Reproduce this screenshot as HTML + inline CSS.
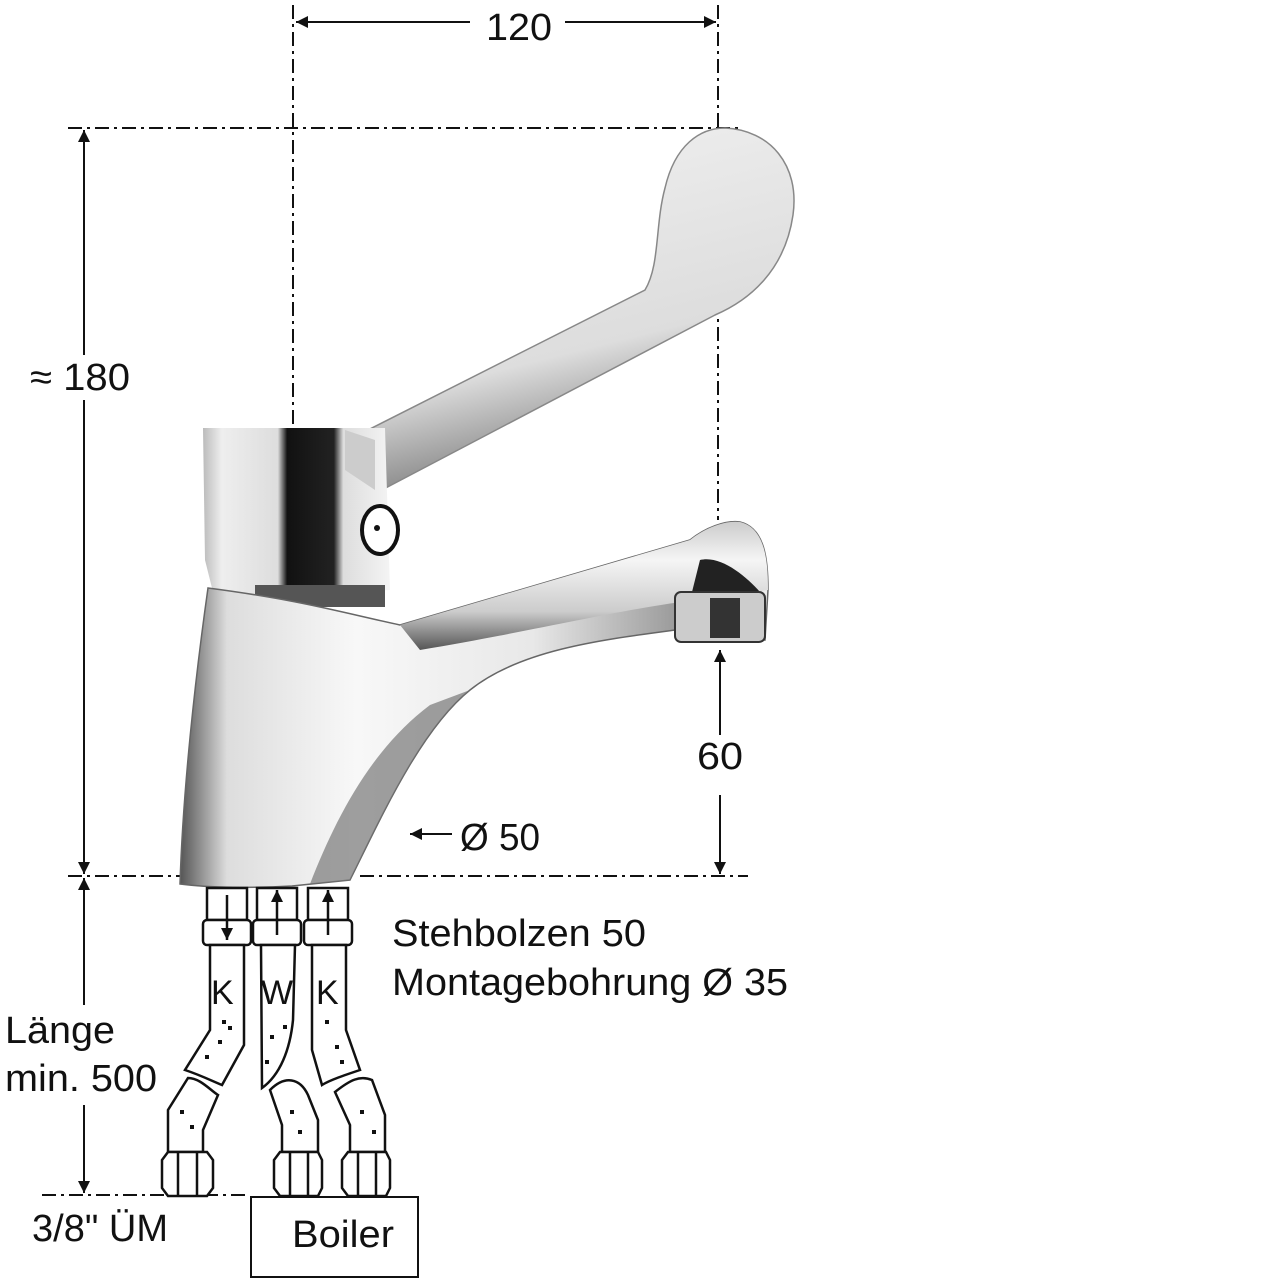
<!DOCTYPE html>
<html><head><meta charset="utf-8"><style>html,body{margin:0;padding:0;background:#fff}svg{display:block}</style></head>
<body>
<svg width="1280" height="1280" viewBox="0 0 1280 1280" xmlns="http://www.w3.org/2000/svg" font-family="Liberation Sans, Arial, sans-serif">
<defs>
<linearGradient id="body" x1="0" x2="1" y1="0" y2="0">
<stop offset="0" stop-color="#555"/><stop offset="0.08" stop-color="#ddd"/><stop offset="0.3" stop-color="#f8f8f8"/><stop offset="0.6" stop-color="#e8e8e8"/><stop offset="0.85" stop-color="#999"/><stop offset="1" stop-color="#eee"/></linearGradient>
<linearGradient id="cap" x1="0" x2="1"><stop offset="0" stop-color="#bbb"/><stop offset="0.1" stop-color="#eee"/><stop offset="0.4" stop-color="#ddd"/><stop offset="0.45" stop-color="#111"/><stop offset="0.7" stop-color="#222"/><stop offset="0.75" stop-color="#ddd"/><stop offset="1" stop-color="#f4f4f4"/></linearGradient>
<linearGradient id="lever" x1="0" y1="0" x2="0.3" y2="1"><stop offset="0" stop-color="#f2f2f2"/><stop offset="0.7" stop-color="#ddd"/><stop offset="1" stop-color="#777"/></linearGradient>
<linearGradient id="spout" x1="0" y1="0" x2="0" y2="1"><stop offset="0" stop-color="#ccc"/><stop offset="0.3" stop-color="#f5f5f5"/><stop offset="0.7" stop-color="#ccc"/><stop offset="1" stop-color="#555"/></linearGradient>
<marker id="a" viewBox="0 0 10 10" refX="10" refY="5" markerWidth="24" markerHeight="12" markerUnits="userSpaceOnUse" orient="auto"><path d="M0,0 L10,5 L0,10 z" fill="#111"/></marker>
</defs>

<g stroke="#111" stroke-width="2" stroke-dasharray="14,5,3,5" fill="none">
<line x1="293" y1="5" x2="293" y2="425"/>
<line x1="718" y1="5" x2="718" y2="128"/>
<line x1="718" y1="300" x2="718" y2="520"/>
<line x1="68" y1="128" x2="740" y2="128"/>
<line x1="68" y1="876" x2="182" y2="876"/>
<line x1="360" y1="876" x2="748" y2="876"/>
<line x1="42" y1="1195" x2="250" y2="1195"/>
</g>

<g stroke="#111" stroke-width="2" fill="none">
<line x1="470" y1="22" x2="296" y2="22" marker-end="url(#a)"/>
<line x1="565" y1="22" x2="716" y2="22" marker-end="url(#a)"/>
<line x1="84" y1="355" x2="84" y2="130" marker-end="url(#a)"/>
<line x1="84" y1="400" x2="84" y2="874" marker-end="url(#a)"/>
<line x1="720" y1="735" x2="720" y2="650" marker-end="url(#a)"/>
<line x1="720" y1="795" x2="720" y2="874" marker-end="url(#a)"/>
<line x1="84" y1="1005" x2="84" y2="878" marker-end="url(#a)"/>
<line x1="84" y1="1105" x2="84" y2="1193" marker-end="url(#a)"/>
<line x1="452" y1="834" x2="410" y2="834" marker-end="url(#a)"/>
</g>

<g font-size="38" fill="#111">
<text x="486" y="40" textLength="66" lengthAdjust="spacingAndGlyphs">120</text>
<text x="30" y="390" textLength="100" lengthAdjust="spacingAndGlyphs">≈ 180</text>
<text x="697" y="769" textLength="46" lengthAdjust="spacingAndGlyphs">60</text>
<text x="460" y="850" textLength="80" lengthAdjust="spacingAndGlyphs">Ø 50</text>
<text x="392" y="946" textLength="254" lengthAdjust="spacingAndGlyphs">Stehbolzen 50</text>
<text x="392" y="995" textLength="396" lengthAdjust="spacingAndGlyphs">Montagebohrung Ø 35</text>
<text x="5" y="1043" textLength="110" lengthAdjust="spacingAndGlyphs">Länge</text>
<text x="5" y="1091" textLength="152" lengthAdjust="spacingAndGlyphs">min. 500</text>
<text x="32" y="1241" textLength="136" lengthAdjust="spacingAndGlyphs">3/8" ÜM</text>
<text x="292" y="1247" textLength="102" lengthAdjust="spacingAndGlyphs">Boiler</text>
</g>
<rect x="251" y="1197" width="167" height="80" fill="none" stroke="#111" stroke-width="2"/>

<path d="M358,435 L645,290 C660,265 655,225 665,188 C675,145 700,128 725,128 C770,130 800,165 793,215 C785,270 750,300 715,315 L378,492 Z" fill="url(#lever)" stroke="#888" stroke-width="1.5"/>
<path d="M203,428 L385,428 L390,590 L215,600 L205,560 Z" fill="url(#cap)"/>
<path d="M345,430 L375,440 L375,490 L345,470 Z" fill="#ccc"/>
<ellipse cx="380" cy="530" rx="18" ry="24" fill="#fff" stroke="#111" stroke-width="4"/>
<circle cx="377" cy="528" r="3" fill="#111"/>
<rect x="255" y="585" width="130" height="22" fill="#555"/>
<path d="M208,588 C300,600 340,612 400,625 L690,540 C705,528 725,520 740,522 C765,528 768,560 768,590 L765,640 L680,640 L675,630 C600,640 520,650 470,690 C420,730 380,820 350,880 L292,886 C255,888 210,888 180,884 C183,790 195,680 208,588 Z" fill="url(#body)" stroke="#666" stroke-width="1.5"/>
<path d="M400,625 L690,540 C705,528 725,520 740,522 C765,528 768,560 768,590 L700,600 C640,605 540,630 420,650 Z" fill="url(#spout)"/>
<path d="M470,690 C420,730 380,820 350,880 L310,884 C335,820 370,750 430,705 Z" fill="#777" opacity="0.7"/>
<path d="M700,560 C720,555 745,575 760,592 L690,600 Z" fill="#222"/>
<rect x="675" y="592" width="90" height="50" rx="6" fill="#ccc" stroke="#333" stroke-width="2"/>
<rect x="710" y="598" width="30" height="40" fill="#333"/>

<g stroke="#111" stroke-width="2.5" fill="#fff">
<rect x="207" y="888" width="40" height="32"/><rect x="203" y="920" width="48" height="25" rx="4"/>
<rect x="257" y="888" width="40" height="32"/><rect x="253" y="920" width="48" height="25" rx="4"/>
<rect x="308" y="888" width="40" height="32"/><rect x="304" y="920" width="48" height="25" rx="4"/>
<path d="M210,945 L244,945 L244,1045 L222,1085 C210,1080 200,1075 185,1070 L210,1030 Z"/>
<path d="M261,945 L295,945 L293,1020 C290,1050 280,1075 262,1088 Z"/>
<path d="M312,945 L346,945 L346,1030 L360,1070 C345,1075 330,1080 322,1085 L312,1050 Z"/>
<path d="M188,1078 C200,1078 210,1090 218,1095 L203,1130 L203,1152 L168,1152 L168,1110 Z"/>
<path d="M270,1090 C285,1075 300,1078 308,1095 L318,1120 L318,1152 L282,1152 L282,1125 Z"/>
<path d="M335,1092 C350,1080 360,1075 372,1080 L385,1115 L385,1152 L350,1152 L350,1125 Z"/>
<path d="M168,1152 L207,1152 L213,1160 L213,1188 L207,1196 L168,1196 L162,1188 L162,1160 Z"/>
<path d="M280,1152 L318,1152 L322,1160 L322,1188 L318,1196 L280,1196 L274,1188 L274,1160 Z"/>
<path d="M348,1152 L386,1152 L390,1160 L390,1188 L386,1196 L348,1196 L342,1188 L342,1160 Z"/>
<path d="M178,1152 L178,1196 M197,1152 L197,1196 M290,1152 L290,1196 M308,1152 L308,1196 M358,1152 L358,1196 M376,1152 L376,1196" fill="none"/>
<line x1="227" y1="895" x2="227" y2="940" marker-end="url(#a)"/>
<line x1="277" y1="935" x2="277" y2="890" marker-end="url(#a)"/>
<line x1="328" y1="935" x2="328" y2="890" marker-end="url(#a)"/>
</g>
<g fill="#111" font-size="34">
<text x="211" y="1004">K</text><text x="261" y="1004">W</text><text x="316" y="1004">K</text>
</g>
<g fill="#111">
<rect x="222" y="1020" width="4" height="4"/><rect x="228" y="1026" width="4" height="4"/><rect x="205" y="1055" width="4" height="4"/><rect x="218" y="1040" width="4" height="4"/>
<rect x="270" y="1035" width="4" height="4"/><rect x="283" y="1025" width="4" height="4"/><rect x="265" y="1060" width="4" height="4"/><rect x="325" y="1020" width="4" height="4"/>
<rect x="335" y="1045" width="4" height="4"/><rect x="340" y="1060" width="4" height="4"/><rect x="180" y="1110" width="4" height="4"/><rect x="190" y="1125" width="4" height="4"/>
<rect x="290" y="1110" width="4" height="4"/><rect x="298" y="1130" width="4" height="4"/><rect x="360" y="1110" width="4" height="4"/><rect x="372" y="1130" width="4" height="4"/>
</g>
</svg>
</body></html>
